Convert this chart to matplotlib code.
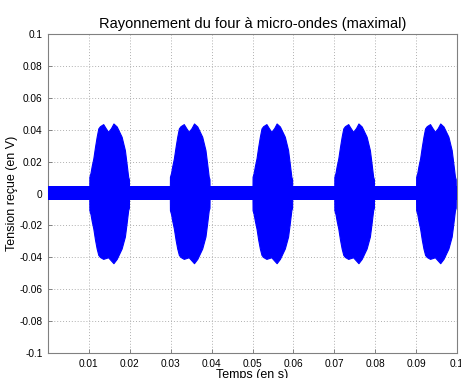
import matplotlib
matplotlib.use("Agg")
import matplotlib.pyplot as plt
import numpy as np

plt.rcParams['font.family'] = ['Liberation Sans', 'DejaVu Sans']

# Burst start times (s)
burst_starts = [0.0101, 0.0298, 0.0500, 0.0700, 0.0900]

# Envelope of one burst: time offset from burst start (s)
env_t = [0.0, 0.00002, 0.0003, 0.00057, 0.00098, 0.0014, 0.0018, 0.0022, 0.0026,
         0.0034, 0.0040, 0.0046, 0.0053, 0.0059, 0.0067, 0.0079, 0.0087, 0.0091,
         0.0095, 0.00968, 0.0097]
env_upper = [0.0045, 0.0105, 0.013, 0.017, 0.022, 0.0293, 0.0356, 0.0408, 0.0422,
             0.0435, 0.041, 0.0387, 0.041, 0.0439, 0.042, 0.0356, 0.0272, 0.019,
             0.0105, 0.009, 0.0045]
env_lower = [-0.0045, -0.0105, -0.013, -0.017, -0.022, -0.029, -0.0345, -0.0385, -0.0398,
             -0.041, -0.0405, -0.040, -0.042, -0.0437, -0.041, -0.0345, -0.027, -0.019,
             -0.0105, -0.009, -0.0045]

# Background noise band (V)
noise_t = [0.0, 0.1]
noise_upper = [0.0045, 0.0045]
noise_lower = [-0.0043, -0.0043]

xticks = [0.01, 0.02, 0.03, 0.04, 0.05, 0.06, 0.07, 0.08, 0.09, 0.1]
xlabels = ['0.01', '0.02', '0.03', '0.04', '0.05', '0.06', '0.07', '0.08', '0.09', '0.1']
yticks = [-0.1, -0.08, -0.06, -0.04, -0.02, 0, 0.02, 0.04, 0.06, 0.08, 0.1]
ylabels = ['-0.1', '-0.08', '-0.06', '-0.04', '-0.02', '0', '0.02', '0.04', '0.06', '0.08', '0.1']

fig = plt.figure(figsize=(4.61, 3.78), dpi=100)
ax = fig.add_axes([48/461, 25/378, 409/461, 319/378])

blue = '#0000ff'
ax.fill_between(noise_t, noise_lower, noise_upper, color=blue, lw=0, zorder=3)
for s in burst_starts:
    tt = [s + d for d in env_t]
    ax.fill_between(tt, env_lower, env_upper, color=blue, lw=0.8, edgecolor=blue, zorder=3)

ax.set_xlim(0, 0.1)
ax.set_ylim(-0.1, 0.1)
ax.set_xticks(xticks)
ax.set_xticklabels(xlabels)
ax.set_yticks(yticks)
ax.set_yticklabels(ylabels)
ax.grid(True, linestyle=(0, (1, 2)), color='#b0b0b0', lw=0.7, zorder=0)
ax.tick_params(direction='in', length=3, width=0.6, color='#707070', labelsize=7.3, pad=4)
for sp in ax.spines.values():
    sp.set_color('#808080')
    sp.set_linewidth(0.8)

ax.set_title('Rayonnement du four à micro-ondes (maximal)', fontsize=10.5, pad=4)
ax.set_xlabel('Temps (en s)', fontsize=9, labelpad=0)
ax.set_ylabel('Tension reçue (en V)', fontsize=9)
ax.yaxis.set_label_coords(-30/409, 0.5)

fig.savefig('out.png', dpi=100)
